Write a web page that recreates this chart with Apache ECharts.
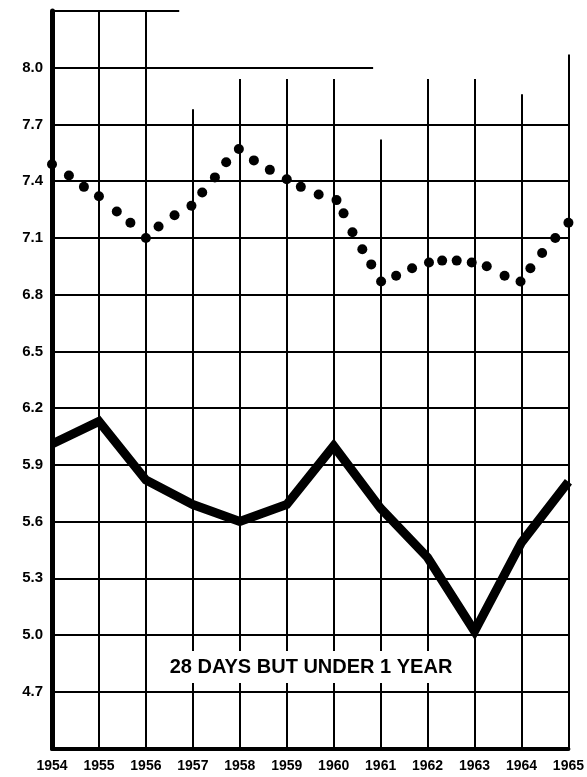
<!DOCTYPE html>
<html lang="en">
<head>
<meta charset="UTF-8">
<title>28 days but under 1 year</title>
<script src="https://cdn.jsdelivr.net/npm/echarts@6.0.0/dist/echarts.min.js"></script>
<style>
  html, body { margin: 0; padding: 0; background: #fff; }
</style>
</head>
<body>
<div id="main" style="width:587px;height:777px;"></div>
<script type="text/javascript">
// axis labels
var years = [1954, 1955, 1956, 1957, 1958, 1959, 1960, 1961, 1962, 1963, 1964, 1965];
var yTicks = [4.7, 5.0, 5.3, 5.6, 5.9, 6.2, 6.5, 6.8, 7.1, 7.4, 7.7, 8.0];

// thick line: one value per year
var annualRate = [6.01, 6.13, 5.82, 5.69, 5.60, 5.69, 6.00, 5.67, 5.41, 5.02, 5.49, 5.81];

// dotted series: time (decimal year) and value
var dotTime = [1954.0, 1954.36, 1954.68, 1955.0, 1955.38, 1955.67, 1956.0, 1956.27, 1956.61, 1956.97,
               1957.2, 1957.47, 1957.71, 1957.98, 1958.3, 1958.64, 1959.0, 1959.3, 1959.68, 1960.06,
               1960.21, 1960.4, 1960.61, 1960.8, 1961.01, 1961.33, 1961.67, 1962.03, 1962.31, 1962.62,
               1962.94, 1963.26, 1963.64, 1963.98, 1964.19, 1964.44, 1964.72, 1965.0];
var dotValue = [7.49, 7.43, 7.37, 7.32, 7.24, 7.18, 7.10, 7.16, 7.22, 7.27,
                7.34, 7.42, 7.50, 7.57, 7.51, 7.46, 7.41, 7.37, 7.33, 7.30,
                7.23, 7.13, 7.04, 6.96, 6.87, 6.90, 6.94, 6.97, 6.98, 6.98,
                6.97, 6.95, 6.90, 6.87, 6.94, 7.02, 7.10, 7.18];

// ruled grid of the original sheet: some lines stop short at the top
var yMin = 4.4, yMax = 8.3;
var vLineTop = [8.3, 8.3, 8.3, 7.78, 7.94, 7.94, 7.94, 7.62, 7.94, 7.94, 7.86, 8.07];
var topBorderEnd = 1956.71;
var line80End = 1960.84;

var gridLines = [];
for (var i = 1; i < years.length; i++) {
    gridLines.push({ coords: [[years[i], yMin], [years[i], vLineTop[i]]] });
}
yTicks.forEach(function (v) {
    var end = (v === 8.0) ? line80End : 1965;
    gridLines.push({ coords: [[1954, v], [end, v]] });
});
gridLines.push({ coords: [[1954, yMax], [topBorderEnd, yMax]] });

var lineData = years.map(function (y, i) { return [y, annualRate[i]]; });
var dotData = dotTime.map(function (t, i) { return [t, dotValue[i]]; });

var myChart = echarts.init(document.getElementById('main'));
myChart.setOption({
    backgroundColor: '#fff',
    animation: false,
    grid: { left: 52, right: 16, top: 11, bottom: 28.5 },
    xAxis: {
        type: 'value',
        min: 1954,
        max: 1965,
        interval: 1,
        splitLine: { show: false },
        axisTick: { show: false },
        axisLine: { onZero: false, lineStyle: { color: '#000', width: 4 } },
        axisLabel: {
            margin: 11,
            color: '#000',
            fontFamily: 'Liberation Sans',
            fontWeight: 'bold',
            fontSize: 14,
            formatter: function (v) { return String(v); }
        }
    },
    yAxis: {
        type: 'value',
        min: yMin,
        max: yMax,
        splitLine: { show: false },
        axisTick: { show: false },
        axisLine: { show: true, onZero: false, lineStyle: { color: '#000', width: 5 } },
        axisLabel: {
            customValues: yTicks,
            margin: 9,
            color: '#000',
            fontFamily: 'Liberation Sans',
            fontWeight: 'bold',
            fontSize: 15,
            formatter: function (v) { return v.toFixed(1); }
        }
    },
    graphic: [{
        type: 'text',
        z: 100,
        x: 311,
        y: 667,
        style: {
            text: '28 DAYS BUT UNDER 1 YEAR',
            fill: '#000',
            font: 'bold 20px "Liberation Sans"',
            align: 'center',
            verticalAlign: 'middle',
            backgroundColor: '#fff',
            padding: [6, 6]
        }
    }],
    series: [
        {
            type: 'lines',
            coordinateSystem: 'cartesian2d',
            silent: true,
            z: 1,
            lineStyle: { color: '#000', width: 2, opacity: 1 },
            data: gridLines
        },
        {
            type: 'scatter',
            z: 3,
            symbolSize: 10,
            itemStyle: { color: '#000', opacity: 1 },
            data: dotData
        },
        {
            type: 'line',
            z: 4,
            symbol: 'none',
            lineStyle: { color: '#000', width: 9, join: 'miter' },
            data: lineData
        }
    ]
});
</script>
</body>
</html>
